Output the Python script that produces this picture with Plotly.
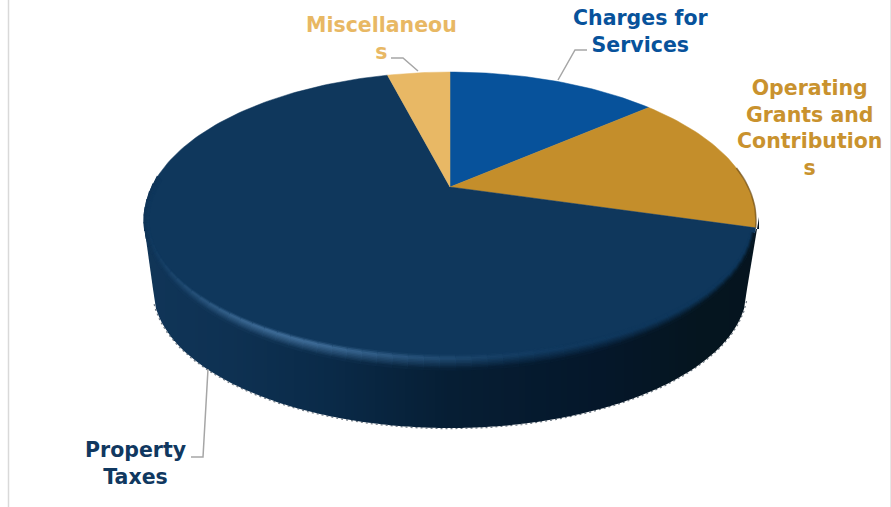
import math
import plotly.graph_objects as go

categories = ["Charges for Services", "Operating Grants and Contributions", "Property Taxes", "Miscellaneous"]
values = [13.8, 15.6, 66.5, 4.1]
label_lines = ["Charges for<br>Services", "Operating<br>Grants and<br>Contribution<br>s", "Property<br>Taxes", "Miscellaneou<br>s"]
colors = ["#07529B", "#C48E2B", "#0F375C", "#E8B865"]
text_colors = ["#07529B", "#C9922E", "#103860", "#E8B864"]

# projection of the pie plane on to the page
CX, CY, A, B, K = 450, 187, 298.3, 140.6, 0.223
RIM_CY, RIM_RX, RIM_RY = 220, 306, 148
BASE_CY, BASE_RX, BASE_RY = 289, 297, 139
IN_RX, IN_RY = 301, 135
OUT_RX, OUT_RY = 306, 150
FONT = "DejaVu Sans"


def project(theta):
    u, v = math.sin(theta), math.cos(theta)
    d = 1 + K * v
    return CX + A * u / d, CY - B * v / d


def hex2rgb(c):
    return tuple(int(c[i:i + 2], 16) for i in (1, 3, 5))


def mix(a, b, t):
    t = max(0, min(1, t))
    return tuple(a[i] + (b[i] - a[i]) * t for i in range(3))


def css(c):
    return "rgb(%d,%d,%d)" % tuple(round(x) for x in c)


WALL_STOPS = [(144, "#103558"), (230, "#0E3152"), (330, "#0A2A48"), (450, "#061E34"), (600, "#05172A"), (700, "#05151F"), (760, "#05141F")]


def wall_color_x(x):
    for (p0, c0), (p1, c1) in zip(WALL_STOPS, WALL_STOPS[1:]):
        if x <= p1:
            return mix(hex2rgb(c0), hex2rgb(c1), (x - p0) / (p1 - p0))
    return hex2rgb(WALL_STOPS[-1][1])


def rim(phi_deg, rx, ry, cy):
    p = math.radians(phi_deg)
    return 450 + rx * math.cos(p), cy + ry * math.sin(p)


def ell_y(x, rx, ry, cy):
    q = (x - 450) / rx
    return cy + ry * math.sqrt(max(0, 1 - q * q))


def wall_top(x):
    y = ell_y(x, RIM_RX, RIM_RY, RIM_CY) - 3
    return max(y, 229) if x > 600 else y


def wall_bottom(x):
    if x < 153:
        return 225 + (x - 144) / 9 * 64
    if x > 747:
        return 229 + (757 - x) / 10 * 60
    return ell_y(x, BASE_RX, BASE_RY, BASE_CY)


fig = go.Figure()


def poly(xs, ys, color, width=0.8):
    fig.add_trace(go.Scatter(x=xs, y=ys, mode="lines", fill="toself", fillcolor=color,
                             line=dict(color=color, width=width), hoverinfo="skip", showlegend=False))


def path(xs, ys, color, width, dash=None):
    fig.add_trace(go.Scatter(x=xs, y=ys, mode="lines", line=dict(color=color, width=width, dash=dash),
                             hoverinfo="skip", showlegend=False))


# dotted lower edge of the wall, under the wall itself
edge = [rim(p, BASE_RX + 0.7, BASE_RY + 0.7, BASE_CY) for p in range(5, 176)]
path([e[0] for e in edge], [e[1] for e in edge], "#707A84", 1.2, "2px,3px")

# side wall, in upright strips
STEP = 3
for x in range(144, 757, STEP):
    xe = x + STEP
    c = css(wall_color_x(x + STEP / 2))
    t0, t1 = wall_top(x), wall_top(xe)
    b0, b1 = wall_bottom(x), wall_bottom(xe)
    fig.add_trace(go.Scatter(x=[x, xe, xe, x, x], y=[t0, t1, b1, b0, t0], mode="lines", fill="toself",
                             fillcolor=c, line=dict(width=0), hoverinfo="skip", showlegend=False))

# top face slices, drawn from the values
total = sum(values)
start = 0.0
ends = []
for val, col in zip(values, colors):
    t0 = start / total * 2 * math.pi
    t1 = (start + val) / total * 2 * math.pi
    n = max(4, int(val * 3))
    pts = [project(t0 + (t1 - t0) * i / n) for i in range(n + 1)]
    poly([CX] + [p[0] for p in pts] + [CX], [CY] + [p[1] for p in pts] + [CY], col, 0.5)
    ends.append(t1)
    start += val

# dark soft rim of the gold slice
g = [project(ends[0] + (ends[1] - ends[0]) * i / 40) for i in range(41)]
g = [p for p in g if p[0] > 735]
path([p[0] for p in g], [p[1] for p in g], "rgba(90,60,15,0.55)", 1.6)

# bevel on the navy slice
ex, ey = project(ends[1])
phi_start = max(0, math.degrees(math.atan2((ey - RIM_CY) / RIM_RY, (ex - 450) / RIM_RX))) + 2
face = hex2rgb(colors[2])
BANDS = [i / 10 for i in range(11)]
PH = 3
phi = phi_start
while phi < 195:
    mid = phi + PH / 2
    h = 0.62 * math.exp(-((mid - 122) / 30) ** 2)
    hi = mix(face, hex2rgb("#5A8AB8"), h)
    wall = wall_color_x(450 + RIM_RX * math.cos(math.radians(mid)))
    for s0, s1 in zip(BANDS, BANDS[1:]):
        sm = (s0 + s1) / 2
        if sm < 0.22:
            c = mix(face, hi, sm / 0.22)
        elif sm < 0.3:
            c = hi
        else:
            c = mix(hi, wall, (sm - 0.3) / 0.7)
        rx0, ry0 = IN_RX + (OUT_RX - IN_RX) * s0, IN_RY + (OUT_RY - IN_RY) * s0
        rx1, ry1 = IN_RX + (OUT_RX - IN_RX) * s1, IN_RY + (OUT_RY - IN_RY) * s1
        a = rim(phi, rx0, ry0, RIM_CY)
        b = rim(phi + PH, rx0, ry0, RIM_CY)
        d = rim(phi + PH, rx1, ry1, RIM_CY)
        e = rim(phi, rx1, ry1, RIM_CY)
        poly([a[0], b[0], d[0], e[0], a[0]], [a[1], b[1], d[1], e[1], a[1]], css(c), 1.3)
    phi += PH

# leader lines
LEADERS = [
    ([587, 575, 558], [50, 50, 80]),
    ([391, 403, 418], [58, 58, 71]),
    ([191, 203, 208], [457, 457, 369]),
]
for xs, ys in LEADERS:
    path(xs, ys, "#A6A6A6", 1.5)

# frame lines
path([8.5, 8.5], [0, 507], "#D9D9D9", 1.5)
path([890.5, 890.5], [0, 507], "#E6E6E6", 1)

LABEL_POS = [(641, 31), (809, 128), (135, 463), (381, 38)]
annotations = [
    dict(x=x, y=y, xref="x", yref="y", text=t, showarrow=False, align="center",
         font=dict(family=FONT, size=20.5, color=c, weight="bold"))
    for (x, y), t, c in zip(LABEL_POS, label_lines, text_colors)
]

fig.update_layout(
    width=891, height=507, margin=dict(l=0, r=0, t=0, b=0),
    paper_bgcolor="white", plot_bgcolor="white", showlegend=False,
    xaxis=dict(range=[0, 891], visible=False, fixedrange=True),
    yaxis=dict(range=[507, 0], visible=False, fixedrange=True),
    annotations=annotations,
)
fig.write_html("out.html", config=dict(displayModeBar=False),
               post_script="document.body.style.margin='0';document.body.style.overflow='hidden';")
